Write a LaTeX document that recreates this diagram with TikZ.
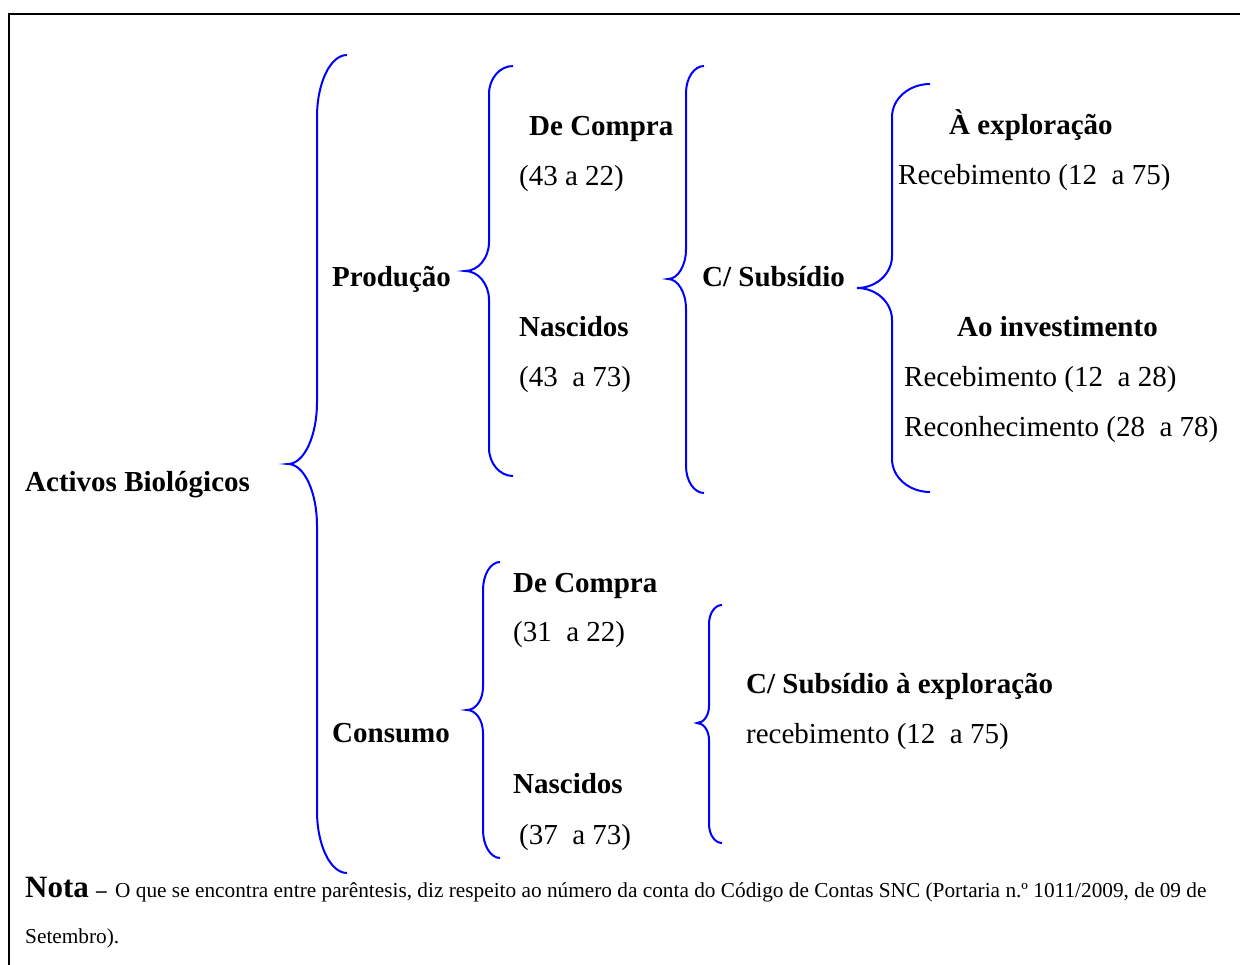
\documentclass[tikz,border=0pt]{standalone}
\usepackage{fontspec}
\setmainfont{Liberation Serif}
\tikzset{
  bracestyle/.style={draw=blue, line width=2pt},
  bl/.style={anchor=base west, inner sep=0pt, font=\fontsize{29}{34}\selectfont\bfseries},
  rg/.style={anchor=base west, inner sep=0pt, font=\fontsize{29}{34}\selectfont},
  nt/.style={anchor=base west, inner sep=0pt, font=\fontsize{21.3}{24}\selectfont},
}
% #1 vertical x, #2 tip x, #3 end x, #4 top y, #5 tip y, #6 bottom y, #7 end radius, #8 tip radius, #9 name
\newcommand{\cbrace}[9]{%
  \coordinate (#9) at (#2,#5);
  \draw[bracestyle] (#3,#4) .. controls ({#3-0.552*(#3-#1)},#4) and (#1,{#4+0.448*#7}) .. (#1,{#4+#7})
    -- (#1,{#5-#8}) .. controls (#1,{#5-0.448*#8}) and ({#2+0.552*(#1-#2)},#5) .. (#9)
    .. controls ({#2+0.552*(#1-#2)},#5) and (#1,{#5+0.448*#8}) .. (#1,{#5+#8})
    -- (#1,{#6-#7}) .. controls (#1,{#6-0.448*#7}) and ({#3-0.552*(#3-#1)},#6) .. (#3,#6);%
}
\begin{document}
\begin{tikzpicture}[x=1pt,y=-1pt]
\useasboundingbox (0,0) rectangle (1240,965);
% frame
\draw[line width=2pt] (9,965) -- (9,14.5) -- (1242,14.5);
% braces
\cbrace{317}{288}{347}{55}{464}{873}{62}{62}{b1}
\cbrace{489}{465}{513}{66}{271}{476}{28}{29}{b2}
\cbrace{686}{668}{704}{66}{279}{493}{27}{30}{b3}
\cbrace{892}{857}{930}{84}{288}{492}{33}{32}{b4}
\cbrace{483}{467}{500}{562}{710}{858}{28}{23}{b5}
\cbrace{709}{697}{722}{605}{723}{843}{19}{17}{b6}
% texts
\node[bl] (activos) at (25,491) {Activos Biológicos};
\node[bl] (producao) at (332,287) {Produção};
\node[bl] (consumo) at (332,742) {Consumo};
\node[bl] (pcompra) at (529,136) {De Compra};
\node[rg] (pcompran) at (519,186) {(43 a 22)};
\node[bl] (pnasc) at (519,337) {Nascidos};
\node[rg] (pnascn) at (519,387) {(43\ \ a 73)};
\node[bl] (csub) at (702,287) {C/ Subsídio};
\node[bl] (aexpl) at (949,135) {À exploração};
\node[rg] (aexpln) at (898,185) {Recebimento (12\ \ a 75)};
\node[bl] (ainv) at (957,337) {Ao investimento};
\node[rg] (ainvr) at (904,387) {Recebimento (12\ \ a 28)};
\node[rg] (ainvc) at (904,437) {Reconhecimento (28\ \ a 78)};
\node[bl] (ccompra) at (513,592) {De Compra};
\node[rg] (ccompran) at (513,641) {(31\ \ a 22)};
\node[bl] (cnasc) at (513,793) {Nascidos};
\node[rg] (cnascn) at (519,844) {(37\ \ a 73)};
\node[bl] (csubex) at (746,693) {C/ Subsídio à exploração};
\node[rg] (csubexn) at (746,743) {recebimento (12\ \ a 75)};
% note
\node[nt] (nota) at (25,897) {{\fontsize{31}{34}\selectfont\bfseries Nota}\hspace{2pt} {\bfseries –}\hspace{3pt} O que se encontra entre parêntesis, diz respeito ao número da conta do Código de Contas SNC (Portaria n.º 1011/2009, de 09 de};
\node[nt] (nota2) at (25,943) {Setembro).};
\end{tikzpicture}
\end{document}
